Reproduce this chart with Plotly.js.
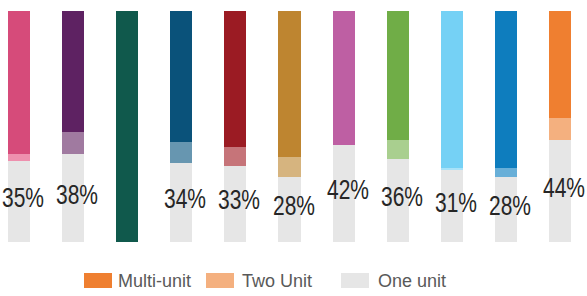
<!DOCTYPE html>
<html>
<head>
<meta charset="utf-8">
<script src="https://cdn.plot.ly/plotly-3.0.1.min.js"></script>
<style>html,body{margin:0;padding:0;background:#fff}#chart{width:587px;height:296px}</style>
</head>
<body>
<div id="chart"></div>
<script>
// Data
const categories = [0, 1, 2, 3, 4, 5, 6, 7, 8, 9, 10];
const oneUnit   = [35, 38, 0, 34, 33, 28, 42, 36, 31, 28, 44];
const twoUnit   = [3, 9.5, 0, 9.5, 8, 9, 0, 8, 1, 4, 9.5];
const multiUnit = [62, 52.5, 100, 56.5, 59, 63, 58, 56, 68, 68, 46.5];
const oneLabels = ["35%", "38%", "", "34%", "33%", "28%", "42%", "36%", "31%", "28%", "44%"];
const seriesNames = ["Multi-unit", "Two Unit", "One unit"];

// Styles
const multiColors = ["#D64B7A", "#5E2262", "#10594C", "#0A527A", "#9B1B23", "#BE8530", "#BE5FA3", "#70AD47", "#75D1F5", "#0E7DBE", "#EF7F30"];
const twoColors   = ["#EE90AE", "#A07AA0", "#10594C", "#6796B0", "#C67479", "#D6B47F", "#BE5FA3", "#A9CF8F", "#A8E2F8", "#68AFD8", "#F4B07F"];
const grayColor = "#E6E6E6";
const legendColors = ["#EF7F30", "#F4B07F", "#E6E6E6"];
const FONT = "'Liberation Sans', Arial, sans-serif";
const LABEL_SQUEEZE = 0.75;

const traces = [
  {type: "bar", x: categories, y: oneUnit, name: seriesNames[2],
   marker: {color: grayColor}, hoverinfo: "none", showlegend: false},
  {type: "bar", x: categories, y: twoUnit, name: seriesNames[1],
   marker: {color: twoColors}, hoverinfo: "none", showlegend: false},
  {type: "bar", x: categories, y: multiUnit, name: seriesNames[0],
   marker: {color: multiColors}, hoverinfo: "none", showlegend: false}
];

const annotations = [];
let nLabels = 0;
categories.forEach((c, i) => {
  if (!oneLabels[i]) return;
  annotations.push({x: c, y: oneUnit[i] / 2, xref: "x", yref: "y", text: oneLabels[i],
    showarrow: false, xanchor: "center", yanchor: "middle", xshift: 4, yshift: 4,
    borderpad: 0,
    font: {family: FONT, size: 28, color: "#262626"}});
  nLabels++;
});

// Custom legend (paper coordinates)
const legendItems = [
  {box: [84, 112], textX: 116},
  {box: [206, 234], textX: 240},
  {box: [341, 369], textX: 376}
];
const W = 587, plotTop = 11, plotBottom = 242, plotH = plotBottom - plotTop;
const py = (px) => (plotBottom - px) / plotH;
const shapes = [];
legendItems.forEach((it, i) => {
  shapes.push({type: "rect", xref: "paper", yref: "paper",
    x0: it.box[0] / W, x1: it.box[1] / W, y0: py(288), y1: py(273),
    fillcolor: legendColors[i], line: {width: 0}});
  annotations.push({xref: "paper", yref: "paper", x: it.textX / W, y: py(280.5),
    xanchor: "left", yanchor: "middle", showarrow: false, text: seriesNames[i],
    font: {family: FONT, size: 18, color: "#595959"}});
});

const layout = {
  width: 587, height: 296,
  margin: {l: 0, r: 0, t: plotTop, b: 296 - plotBottom, pad: 0},
  barmode: "stack", bargap: 0.593,
  paper_bgcolor: "#fff", plot_bgcolor: "#fff",
  xaxis: {range: [-0.351, 10.499], showticklabels: false, showgrid: false, zeroline: false, showline: false, ticks: ""},
  yaxis: {range: [0, 100], showticklabels: false, showgrid: false, zeroline: false, showline: false, ticks: ""},
  showlegend: false, shapes: shapes, annotations: annotations
};

Plotly.newPlot("chart", traces, layout, {staticPlot: true, displayModeBar: false}).then(() => {
  document.querySelectorAll("#chart g.annotation").forEach((g) => {
    const idx = +g.getAttribute("data-index");
    if (idx >= nLabels) return;
    const t = g.querySelector("text.annotation-text");
    if (!t) return;
    const bb = t.getBBox();
    const cx = bb.x + bb.width / 2;
    const prev = t.getAttribute("transform") || "";
    t.setAttribute("transform", prev + " translate(" + cx + ",0) scale(" + LABEL_SQUEEZE + ",1) translate(" + (-cx) + ",0)");
  });
});
</script>
</body>
</html>
